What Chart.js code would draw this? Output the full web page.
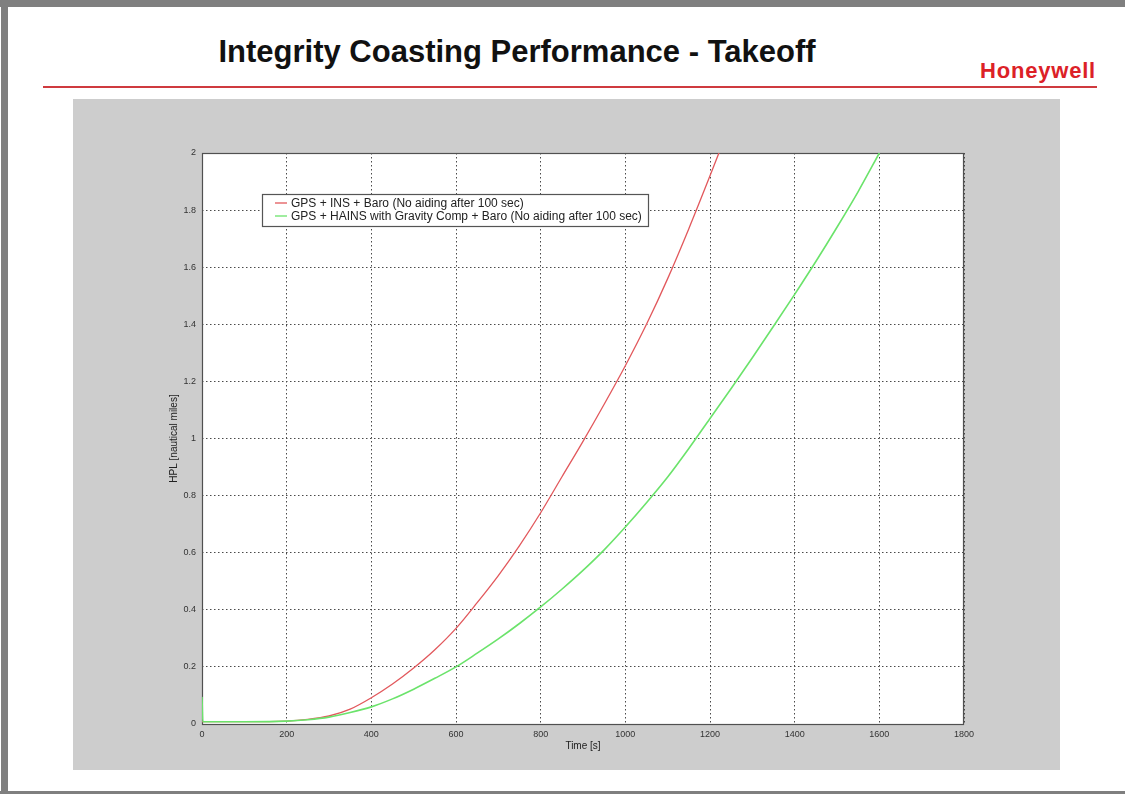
<!DOCTYPE html>
<html>
<head>
<meta charset="utf-8">
<script src="https://cdn.jsdelivr.net/npm/chart.js@4.4.1/dist/chart.umd.min.js"></script>
<style>
  html, body { margin: 0; padding: 0; background: #ffffff; }
  body { width: 1125px; height: 794px; position: relative; overflow: hidden; font-family: "Liberation Sans", Arial, sans-serif; }
  .frame-top { position: absolute; left: 0; top: 0; width: 1125px; height: 7px; background: #7f7f7f; }
  .frame-left { position: absolute; left: 1px; top: 0; width: 7px; height: 794px; background: #7f7f7f; }
  .frame-bottom { position: absolute; left: 0; top: 791px; width: 1125px; height: 3px; background: #7f7f7f; }
  .title { position: absolute; left: 0; top: 36px; width: 1034px; text-align: center; font-size: 31px; line-height: 31px; font-weight: bold; color: #111; white-space: nowrap; }
  .brand { position: absolute; left: 980px; top: 60px; font-size: 22px; line-height: 22px; font-weight: bold; color: #dc2127; letter-spacing: 0.8px; white-space: nowrap; }
  .rule { position: absolute; left: 43px; top: 86px; width: 1054px; height: 2px; background: #cf3a3f; }
  .panel { position: absolute; left: 73px; top: 99px; width: 987px; height: 671px; background: #cdcdcd; }
  .panel canvas { position: absolute; left: 0; top: 0; }
</style>
</head>
<body>
<div class="frame-top"></div>
<div class="frame-left"></div>
<div class="frame-bottom"></div>
<div class="title">Integrity Coasting Performance - Takeoff</div>
<div class="brand">Honeywell</div>
<div class="rule"></div>
<div class="panel"><canvas id="hpl" width="987" height="671"></canvas></div>

<script>
// Horizontal protection level after loss of aiding at 100 s (takeoff case)
const seriesNames = [
  'GPS + INS + Baro (No aiding after 100 sec)',
  'GPS + HAINS with Gravity Comp + Baro (No aiding after 100 sec)'
];

// GPS + INS + Baro
const timeInsBaro = [0, 100, 200, 250, 300, 350, 400, 450, 500, 550, 600, 650, 700, 750, 800, 850, 900, 950, 1000, 1050, 1100, 1150, 1200, 1225];
const hplInsBaro  = [0.008, 0.008, 0.010, 0.016, 0.028, 0.052, 0.092, 0.140, 0.196, 0.260, 0.335, 0.425, 0.520, 0.625, 0.740, 0.865, 0.990, 1.120, 1.255, 1.400, 1.560, 1.735, 1.920, 2.015];

// GPS + HAINS with gravity compensation + Baro
const timeHains = [0, 2, 100, 200, 250, 300, 350, 400, 450, 500, 550, 600, 650, 700, 750, 800, 850, 900, 950, 1000, 1050, 1100, 1150, 1200, 1250, 1300, 1350, 1400, 1450, 1500, 1550, 1600];
const hplHains  = [0.095, 0.008, 0.008, 0.010, 0.015, 0.024, 0.040, 0.060, 0.088, 0.122, 0.160, 0.200, 0.248, 0.298, 0.352, 0.410, 0.472, 0.538, 0.610, 0.690, 0.775, 0.865, 0.965, 1.070, 1.175, 1.283, 1.393, 1.505, 1.620, 1.740, 1.865, 2.000];

// Axis ticks
const timeTicks = [0, 200, 400, 600, 800, 1000, 1200, 1400, 1600, 1800];
const hplTicks  = [0, 0.2, 0.4, 0.6, 0.8, 1, 1.2, 1.4, 1.6, 1.8, 2];

const seriesColors = ['#e2585c', '#6be36b'];

const toPoints = (xs, ys) => xs.map((x, i) => ({ x: x, y: ys[i] }));

// White axes box, dotted grid, frame, axis titles and boxed legend
const axesBox = {
  id: 'axesBox',
  beforeDraw(chart) {
    const { ctx, chartArea: a } = chart;
    ctx.save();
    ctx.fillStyle = '#ffffff';
    ctx.fillRect(a.left, a.top, a.right - a.left, a.bottom - a.top);
    ctx.restore();
  },
  beforeDatasetsDraw(chart) {
    const { ctx, chartArea: a } = chart;
    ctx.save();
    ctx.strokeStyle = '#505050';
    ctx.lineWidth = 1.2;
    ctx.strokeRect(a.left + 0.5, a.top + 0.5, a.right - a.left - 1, a.bottom - a.top);
    ctx.restore();
  },
  afterDraw(chart) {
    const { ctx, chartArea: a } = chart;
    ctx.save();
    // axis titles
    ctx.fillStyle = '#222';
    ctx.font = '10px "Liberation Sans", Arial, sans-serif';
    ctx.textAlign = 'center';
    ctx.textBaseline = 'middle';
    ctx.fillText('Time [s]', (a.left + a.right) / 2, a.bottom + 22);
    ctx.save();
    ctx.translate(a.left - 28, (a.top + a.bottom) / 2);
    ctx.rotate(-Math.PI / 2);
    ctx.fillText('HPL [nautical miles]', 0, 0);
    ctx.restore();

    // legend
    const bx = a.left + 60, by = a.top + 41, bw = 386, bh = 32;
    ctx.fillStyle = '#ffffff';
    ctx.fillRect(bx, by, bw, bh);
    ctx.strokeStyle = '#555';
    ctx.lineWidth = 1.2;
    ctx.strokeRect(bx + 0.5, by + 0.5, bw, bh);
    ctx.font = '12px "Liberation Sans", Arial, sans-serif';
    ctx.textAlign = 'left';
    chart.data.datasets.forEach((ds, i) => {
      const y = by + 9 + i * 13;
      ctx.strokeStyle = ds.borderColor;
      ctx.lineWidth = 1.3;
      ctx.beginPath();
      ctx.moveTo(bx + 13, y);
      ctx.lineTo(bx + 25, y);
      ctx.stroke();
      ctx.fillStyle = '#222';
      ctx.fillText(ds.label, bx + 29, y + 0.5);
    });
    ctx.restore();
  }
};

new Chart(document.getElementById('hpl'), {
  type: 'line',
  data: {
    datasets: [
      {
        label: seriesNames[0],
        data: toPoints(timeInsBaro, hplInsBaro),
        borderColor: seriesColors[0],
        borderWidth: 1.3,
        pointRadius: 0,
        cubicInterpolationMode: 'monotone',
        fill: false,
        order: 2
      },
      {
        label: seriesNames[1],
        data: toPoints(timeHains, hplHains),
        borderColor: seriesColors[1],
        borderWidth: 1.6,
        pointRadius: 0,
        cubicInterpolationMode: 'monotone',
        fill: false,
        order: 1
      }
    ]
  },
  options: {
    responsive: false,
    animation: false,
    events: [],
    layout: { padding: { left: 0, right: 96, top: 54, bottom: 0 } },
    plugins: { legend: { display: false }, tooltip: { enabled: false } },
    scales: {
      x: {
        type: 'linear',
        min: timeTicks[0],
        max: timeTicks[timeTicks.length - 1],
        afterFit(scale) { scale.height = 46; },
        afterBuildTicks(scale) { scale.ticks = timeTicks.map(v => ({ value: v })); },
        border: { display: false, dash: [1.5, 2.5] },
        grid: { color: '#4a4a4a', lineWidth: 1, drawTicks: false },
        ticks: { padding: 5, color: '#333', font: { size: 9, family: '"Liberation Sans", Arial, sans-serif' }, maxRotation: 0, callback: v => String(v) }
      },
      y: {
        type: 'linear',
        min: hplTicks[0],
        max: hplTicks[hplTicks.length - 1],
        afterFit(scale) { scale.width = 129; },
        afterBuildTicks(scale) { scale.ticks = hplTicks.map(v => ({ value: v })); },
        border: { display: false, dash: [1.5, 2.5] },
        grid: { color: '#4a4a4a', lineWidth: 1, drawTicks: false },
        ticks: { padding: 6, color: '#333', font: { size: 9, family: '"Liberation Sans", Arial, sans-serif' }, callback: v => String(Number(v.toFixed(1))) }
      }
    }
  },
  plugins: [axesBox]
});
</script>
</body>
</html>
